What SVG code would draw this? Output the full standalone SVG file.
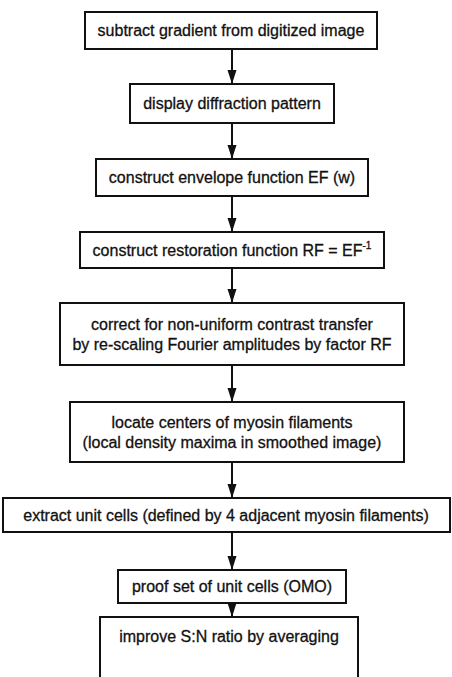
<svg xmlns="http://www.w3.org/2000/svg" width="452" height="677" viewBox="0 0 452 677">
  <style>
    .box { fill: #ffffff; stroke: #111111; stroke-width: 2; }
    .lbl { font-family: "Liberation Sans", Arial, Helvetica, sans-serif; font-size: 16px; fill: #111111; stroke: #111111; stroke-width: 0.3; text-anchor: middle; }
    .sup { font-size: 10px; }
    .edge { stroke: #111111; stroke-width: 2; fill: none; marker-end: url(#arrow); }
  </style>
  <defs>
    <!-- filled arrowhead, tip at the end of the line -->
    <marker id="arrow" viewBox="0 0 14 10" refX="14" refY="5" markerWidth="14" markerHeight="10" markerUnits="userSpaceOnUse" orient="auto">
      <path d="M0,0.5 L14,5 L0,9.5 Z" fill="#111111"/>
    </marker>
  </defs>
  <rect width="452" height="677" fill="#ffffff"/>

  <g id="connectors">
    <line class="edge" x1="232" y1="49" x2="232" y2="84"/>
    <line class="edge" x1="232" y1="123" x2="232" y2="159"/>
    <line class="edge" x1="232" y1="196" x2="232" y2="232"/>
    <line class="edge" x1="232" y1="268" x2="232" y2="303"/>
    <line class="edge" x1="232" y1="365" x2="232" y2="402"/>
    <line class="edge" x1="232" y1="462" x2="232" y2="498"/>
    <line class="edge" x1="232" y1="532" x2="232" y2="570"/>
    <line class="edge" x1="232" y1="603" x2="232" y2="617"/>
  </g>

  <g id="n1">
    <rect class="box" x="85" y="12" width="292" height="37"/>
    <text class="lbl" x="231" y="36">subtract gradient from digitized image</text>
  </g>
  <g id="n2">
    <rect class="box" x="130" y="84" width="204" height="39"/>
    <text class="lbl" x="232" y="109">display diffraction pattern</text>
  </g>
  <g id="n3">
    <rect class="box" x="96" y="159" width="272" height="37"/>
    <text class="lbl" x="232" y="183">construct envelope function EF (w)</text>
  </g>
  <g id="n4">
    <rect class="box" x="80" y="232" width="304" height="36"/>
    <text class="lbl" x="232" y="256">construct restoration function RF = EF<tspan class="sup" dy="-7">-1</tspan></text>
  </g>
  <g id="n5">
    <rect class="box" x="60" y="303" width="344" height="62"/>
    <text class="lbl" x="232" y="330">correct for non-uniform contrast transfer</text>
    <text class="lbl" x="232" y="350">by re-scaling Fourier amplitudes by factor RF</text>
  </g>
  <g id="n6">
    <rect class="box" x="70" y="402" width="334" height="60"/>
    <text class="lbl" x="232" y="428">locate centers of myosin filaments</text>
    <text class="lbl" x="232" y="448">(local density maxima in smoothed image)</text>
  </g>
  <g id="n7">
    <rect class="box" x="3" y="498" width="447" height="34"/>
    <text class="lbl" x="226" y="521">extract unit cells (defined by 4 adjacent myosin filaments)</text>
  </g>
  <g id="n8">
    <rect class="box" x="118" y="570" width="228" height="33"/>
    <text class="lbl" x="232" y="592">proof set of unit cells (OMO)</text>
  </g>
  <g id="n9">
    <rect class="box" x="100" y="617" width="258" height="80"/>
    <text class="lbl" x="229" y="642">improve S:N ratio by averaging</text>
  </g>
</svg>
